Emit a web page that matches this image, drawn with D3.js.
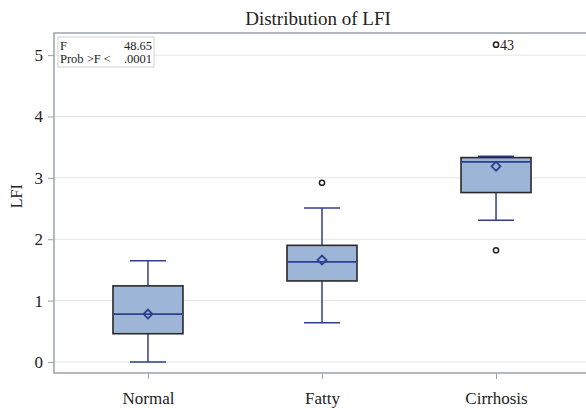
<!DOCTYPE html>
<html>
<head>
<meta charset="utf-8">
<script src="https://cdn.jsdelivr.net/npm/d3@7"></script>
<style>
  body { margin: 0; background: #fff; }
  text { font-family: "Liberation Serif", "DejaVu Serif", serif; fill: #222; }
  .grid line { stroke: #e4e4e4; }
  .axis path, .axis line { stroke: #9aa3ab; }
</style>
</head>
<body>
<div id="chart"></div>
<script>
var groups = ["Normal", "Fatty", "Cirrhosis"];
// five-number summaries
var q1 = [0.46, 1.32, 2.76];
var median = [0.78, 1.63, 3.26];
var q3 = [1.24, 1.90, 3.33];
var whiskerLow = [0.00, 0.64, 2.31];
var whiskerHigh = [1.65, 2.51, 3.35];
var means = [0.78, 1.66, 3.19];
var outliers = [
  {group: "Fatty", value: 2.92, label: ""},
  {group: "Cirrhosis", value: 1.82, label: ""},
  {group: "Cirrhosis", value: 5.17, label: "43"}
];
var yTicks = [0, 1, 2, 3, 4, 5];

var fullwidth = 586, fullheight = 408;
var margin = {top: 33, right: -4, bottom: 35, left: 54};
var width = fullwidth - margin.left - margin.right;
var height = fullheight - margin.top - margin.bottom;

var svg = d3.select("#chart").append("svg")
    .attr("width", fullwidth)
    .attr("height", fullheight);

var g = svg.append("g")
    .attr("transform", "translate(" + margin.left + "," + margin.top + ")");

var xScale = d3.scalePoint()
    .domain(groups)
    .range([0, width])
    .padding(0.54);

var yScale = d3.scaleLinear()
    .domain([-0.18, 5.36])
    .range([height, 0]);

// gridlines
g.append("g").attr("class", "grid")
  .selectAll("line")
  .data(yTicks)
  .enter().append("line")
  .attr("x1", 0).attr("x2", width)
  .attr("y1", function(d) { return yScale(d); })
  .attr("y2", function(d) { return yScale(d); });

// frame
g.append("rect")
  .attr("width", width).attr("height", height)
  .attr("fill", "none").attr("stroke", "#9aa3ab").attr("stroke-width", 1.5);

var yAxis = d3.axisLeft(yScale).tickValues(yTicks).tickFormat(d3.format("d")).tickSize(6).tickSizeOuter(0);
g.append("g").attr("class", "y axis")
  .call(yAxis)
  .attr("font-family", null)
  .call(function(s) { s.select(".domain").remove(); })
  .selectAll("text").attr("font-size", 17).attr("dx", "-2");

var xAxis = d3.axisBottom(xScale).tickSize(6).tickSizeOuter(0);
g.append("g").attr("class", "x axis")
  .attr("transform", "translate(0," + height + ")")
  .call(xAxis)
  .attr("font-family", null)
  .call(function(s) { s.select(".domain").remove(); })
  .selectAll("text").attr("font-size", 17).attr("y", 31).attr("dy", 0);

var boxW = 70, capW = 36;
var whiskerColor = "#2f3f8f";

var boxes = g.selectAll(".box")
  .data(groups)
  .enter().append("g")
  .attr("class", "box")
  .attr("transform", function(d) { return "translate(" + xScale(d) + ",0)"; });

boxes.append("line")
  .attr("x1", 0).attr("x2", 0)
  .attr("y1", function(d, i) { return yScale(whiskerLow[i]); })
  .attr("y2", function(d, i) { return yScale(whiskerHigh[i]); })
  .attr("stroke", whiskerColor).attr("stroke-width", 1.5);

boxes.selectAll(".cap")
  .data(function(d, i) { return [whiskerLow[i], whiskerHigh[i]]; })
  .enter().append("line")
  .attr("x1", -capW / 2).attr("x2", capW / 2)
  .attr("y1", function(v) { return yScale(v); })
  .attr("y2", function(v) { return yScale(v); })
  .attr("stroke", whiskerColor).attr("stroke-width", 1.5);

boxes.append("rect")
  .attr("x", -boxW / 2)
  .attr("width", boxW)
  .attr("y", function(d, i) { return yScale(q3[i]); })
  .attr("height", function(d, i) { return yScale(q1[i]) - yScale(q3[i]); })
  .attr("fill", "#9db5d6")
  .attr("stroke", "#2a2a2a").attr("stroke-width", 1.6);

boxes.append("line")
  .attr("x1", -boxW / 2).attr("x2", boxW / 2)
  .attr("y1", function(d, i) { return yScale(median[i]); })
  .attr("y2", function(d, i) { return yScale(median[i]); })
  .attr("stroke", "#2f3f8f").attr("stroke-width", 1.6);

boxes.append("path")
  .attr("d", d3.symbol().type(d3.symbolSquare).size(40))
  .attr("transform", function(d, i) { return "translate(0," + yScale(means[i]) + ") rotate(45)"; })
  .attr("fill", "none")
  .attr("stroke", "#2f3f8f").attr("stroke-width", 1.8);

var out = g.selectAll(".outlier")
  .data(outliers)
  .enter().append("g")
  .attr("transform", function(d) { return "translate(" + xScale(d.group) + "," + yScale(d.value) + ")"; });

out.append("circle")
  .attr("r", 2.6)
  .attr("fill", "none")
  .attr("stroke", "#222").attr("stroke-width", 1.5);

out.append("text")
  .attr("x", 4).attr("dy", "0.35em")
  .attr("font-size", 14)
  .text(function(d) { return d.label; });

// inset stats box
var inset = g.append("g").attr("transform", "translate(4,4)");
inset.append("rect")
  .attr("width", 96).attr("height", 30)
  .attr("fill", "#fff").attr("stroke", "#d0d0d0");
inset.append("text").attr("x", 2).attr("y", 13).attr("font-size", 12.5).text("F");
inset.append("text").attr("x", 94).attr("y", 13).attr("font-size", 12.5)
  .attr("text-anchor", "end").text("48.65");
inset.append("text").attr("x", 2).attr("y", 26).attr("font-size", 12.5).text("Prob >F <");
inset.append("text").attr("x", 94).attr("y", 26).attr("font-size", 12.5)
  .attr("text-anchor", "end").text(".0001");

// title and y label
svg.append("text")
  .attr("x", 318).attr("y", 25)
  .attr("text-anchor", "middle")
  .attr("font-size", 19)
  .text("Distribution of LFI");

svg.append("text")
  .attr("transform", "translate(22," + (margin.top + yScale(2.7)) + ") rotate(-90)")
  .attr("text-anchor", "middle")
  .attr("font-size", 16)
  .text("LFI");
</script>
</body>
</html>
